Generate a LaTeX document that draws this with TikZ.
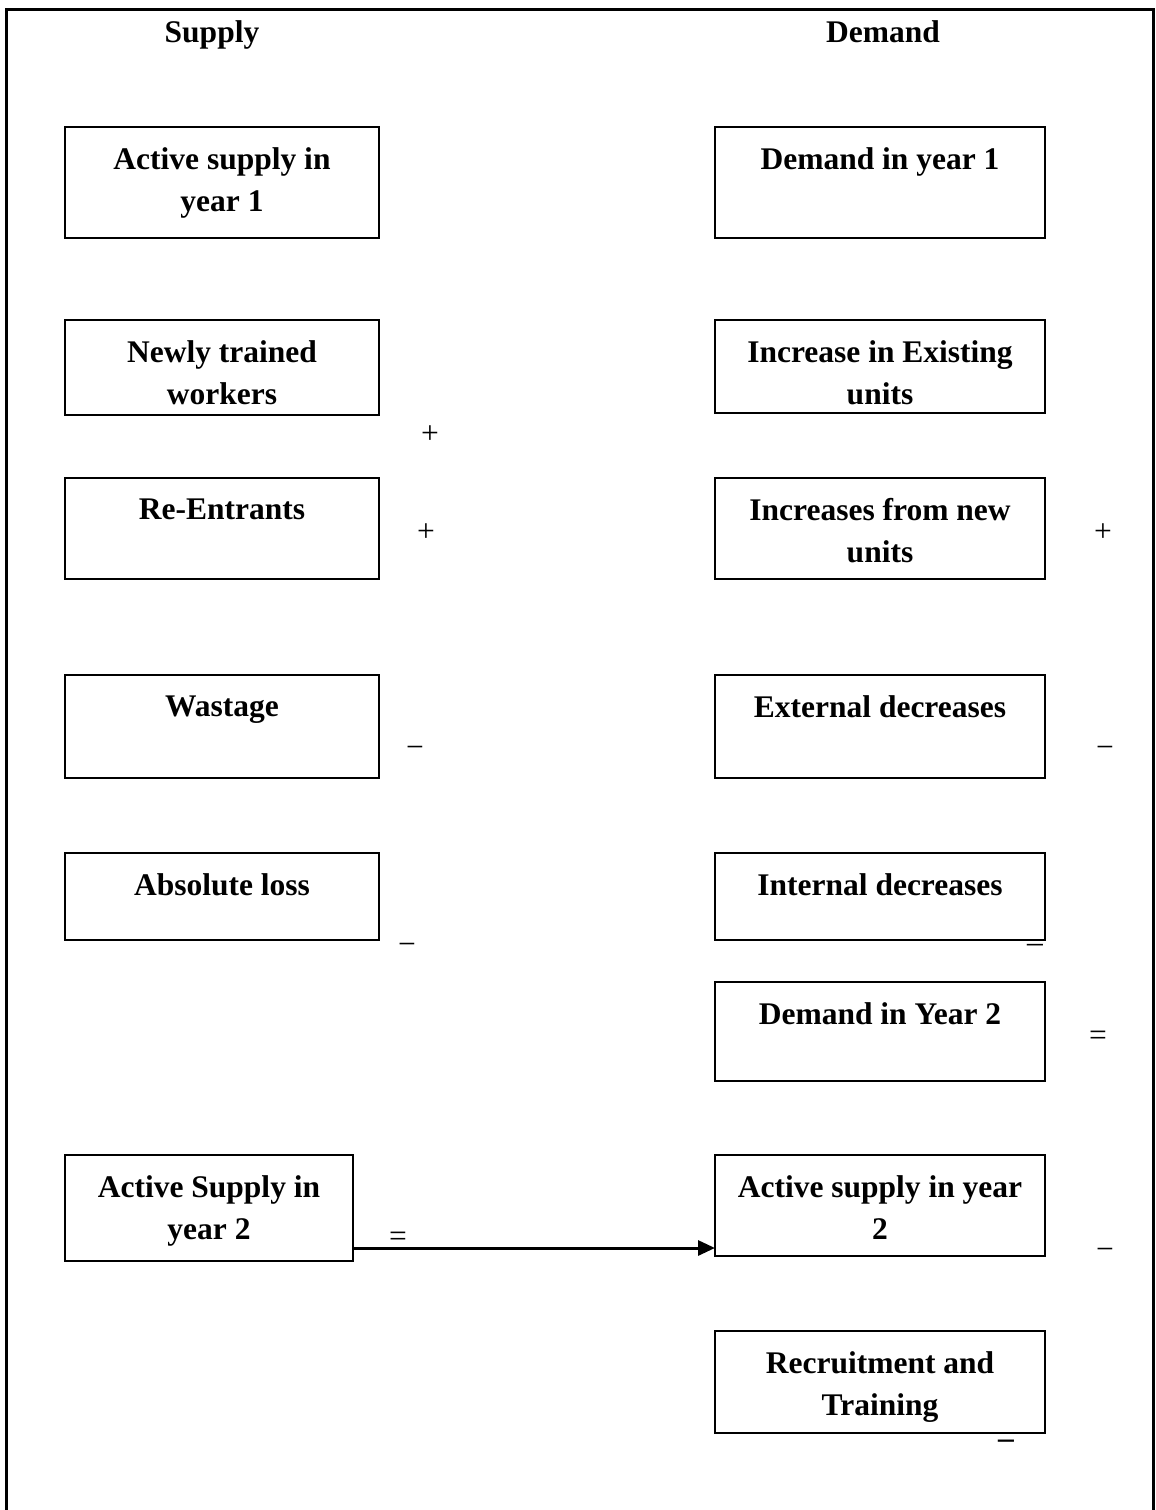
\documentclass[tikz,border=0pt]{standalone}
\usepackage{fontspec}
\setmainfont{Liberation Serif}
\usetikzlibrary{arrows.meta}
\begin{document}
\begin{tikzpicture}[x=1pt,y=-1pt,
  box/.style={draw,line width=2.6pt,inner sep=0pt,outer sep=0pt},
  boxtxt/.style={font=\fontsize{31.5}{42}\selectfont\bfseries,align=center,inner sep=0pt,anchor=north,yshift=-20pt},
  sign/.style={font=\fontsize{31.5}{42}\selectfont,inner sep=0pt},
  head/.style={font=\fontsize{31.5}{42}\selectfont\bfseries,inner sep=0pt,anchor=base}]
\useasboundingbox (0,0) rectangle (1156,1510);
% frame
\draw[line width=3pt] (6,1512) -- (6,9) -- (1153,9) -- (1153,1512);
% headers
\node[head] (hs) at (212,42) {Supply};
\node[head] (hd) at (883,42) {Demand};
% left column
\node[box,minimum width=314pt,minimum height=111pt] (a1) at (222,182.5) {};
\node[boxtxt] (a1t) at (a1.north) {\rule{0pt}{21.5pt}Active supply in\\year 1};
\node[box,minimum width=314pt,minimum height=95pt] (nt) at (222,367.5) {};
\node[boxtxt] (ntt) at (nt.north) {\rule{0pt}{21.5pt}Newly trained\\workers};
\node[box,minimum width=314pt,minimum height=101pt] (re) at (222,528.5) {};
\node[boxtxt] (ret) at (re.north) {\rule{0pt}{21.5pt}Re-Entrants};
\node[box,minimum width=314pt,minimum height=103pt] (wa) at (222,726.5) {};
\node[boxtxt] (wat) at (wa.north) {\rule{0pt}{21.5pt}Wastage};
\node[box,minimum width=314pt,minimum height=87pt] (al) at (222,896.5) {};
\node[boxtxt] (alt) at (al.north) {\rule{0pt}{21.5pt}Absolute loss};
\node[box,minimum width=288pt,minimum height=106pt] (s2) at (209,1208) {};
\node[boxtxt] (s2t) at (s2.north) {\rule{0pt}{21.5pt}Active Supply in\\year 2};
% right column
\node[box,minimum width=330pt,minimum height=111pt] (d1) at (880,182.5) {};
\node[boxtxt] (d1t) at (d1.north) {\rule{0pt}{21.5pt}Demand in year 1};
\node[box,minimum width=330pt,minimum height=93pt] (ie) at (880,366.5) {};
\node[boxtxt] (iet) at (ie.north) {\rule{0pt}{21.5pt}Increase in Existing\\units};
\node[box,minimum width=330pt,minimum height=101pt] (inu) at (880,528.5) {};
\node[boxtxt] (inut) at (inu.north) {\rule{0pt}{21.5pt}Increases from new\\units};
\node[box,minimum width=330pt,minimum height=103pt] (ed) at (880,726.5) {};
\node[boxtxt] (edt) at (ed.north) {\rule{0pt}{21.5pt}External decreases};
\node[box,minimum width=330pt,minimum height=87pt] (id) at (880,896.5) {};
\node[boxtxt] (idt) at (id.north) {\rule{0pt}{21.5pt}Internal decreases};
\node[box,minimum width=330pt,minimum height=99pt] (d2) at (880,1031.5) {};
\node[boxtxt] (d2t) at (d2.north) {\rule{0pt}{21.5pt}Demand in Year 2};
\node[box,minimum width=330pt,minimum height=101pt] (a2) at (880,1205.5) {};
\node[boxtxt] (a2t) at (a2.north) {\rule{0pt}{21.5pt}Active supply in year\\2};
\node[box,minimum width=330pt,minimum height=102pt] (rt) at (880,1382) {};
\node[boxtxt] (rtt) at (rt.north) {\rule{0pt}{21.5pt}Recruitment and\\Training};
% signs
\node[sign] (p1) at (430,435) {+};
\node[sign] (p2) at (426,533) {+};
\node[sign] (m1) at (415,752) {−};
\node[sign] (m2) at (407,949) {−};
\node[sign] (p3) at (1103,533) {+};
\node[sign] (m3) at (1105,752) {−};
\node[sign] (m4) at (1035,948) {–};
\node[sign] (e1) at (1098,1038) {=};
\node[sign] (m5) at (1105,1254) {−};
\node[sign,font=\fontsize{31.5}{42}\selectfont\bfseries] (m6) at (1006,1444) {–};
\node[sign] (e2) at (398,1239) {=};
% arrow
\coordinate (ay) at (0,1248);
\draw[line width=3pt,-{Triangle[length=17pt,width=15pt]}] (s2.east |- ay) -- (a2.west |- ay);
\end{tikzpicture}
\end{document}
